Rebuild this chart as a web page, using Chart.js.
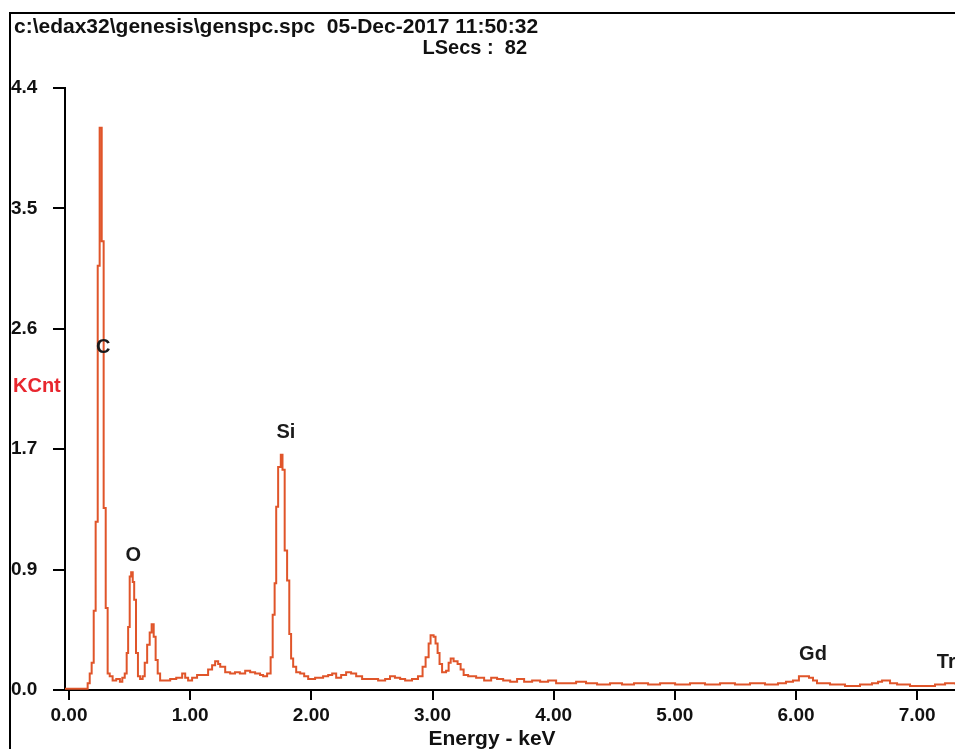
<!DOCTYPE html>
<html>
<head>
<meta charset="utf-8">
<script src="https://cdn.jsdelivr.net/npm/chart.js@4.4.0/dist/chart.umd.min.js"></script>
<style>
  html, body { margin: 0; padding: 0; background: #fff; }
  #wrap { width: 955px; height: 749px; }
</style>
</head>
<body>
<div id="wrap"><canvas id="spectrum" width="955" height="749"></canvas></div>
<script>
// EDS spectrum: channel left edge (keV) and counts (KCnt)
const energyKeV = [
  -0.033, 0.154, 0.171, 0.187, 0.204, 0.220, 0.237, 0.253, 0.270, 0.286,
  0.303, 0.319, 0.336, 0.36, 0.39, 0.42, 0.44, 0.460, 0.476, 0.488,
  0.501, 0.513, 0.526, 0.538, 0.553, 0.569, 0.587, 0.608, 0.625, 0.645,
  0.666, 0.682, 0.699, 0.715, 0.732, 0.752, 0.835, 0.885, 0.934, 0.959,
  0.983, 1.016, 1.057, 1.148, 1.181, 1.206, 1.231, 1.248, 1.289, 1.33,
  1.37, 1.41, 1.454, 1.495, 1.536, 1.577, 1.602, 1.635, 1.664, 1.681,
  1.697, 1.710, 1.726, 1.748, 1.762, 1.780, 1.800, 1.818, 1.833, 1.85,
  1.875, 1.908, 1.941, 1.974, 2.031, 2.097, 2.139, 2.172, 2.205, 2.246,
  2.287, 2.328, 2.37, 2.419, 2.551, 2.609, 2.649, 2.69, 2.733, 2.774,
  2.831, 2.88, 2.918, 2.943, 2.968, 2.984, 3.009, 3.025, 3.042, 3.058,
  3.079, 3.112, 3.133, 3.15, 3.174, 3.207, 3.232, 3.257, 3.294, 3.36,
  3.426, 3.484, 3.533, 3.583, 3.641, 3.698, 3.756, 3.822, 3.888, 3.954,
  4.02, 4.185, 4.267, 4.358, 4.465, 4.564, 4.663, 4.779, 4.878, 5.002,
  5.125, 5.249, 5.373, 5.496, 5.62, 5.744, 5.851, 5.917, 5.975, 6.024,
  6.107, 6.14, 6.173, 6.28, 6.404, 6.528, 6.627, 6.677, 6.71, 6.776,
  6.834, 6.941, 7.147, 7.23, 7.312
];
const kcnt = [
  0.01, 0.05, 0.12, 0.20, 0.58, 1.23, 3.10, 4.11, 3.28, 1.33,
  0.60, 0.12, 0.10, 0.07, 0.08, 0.06, 0.09, 0.12, 0.27, 0.46,
  0.83, 0.86, 0.79, 0.66, 0.27, 0.10, 0.08, 0.10, 0.20, 0.33,
  0.42, 0.48, 0.39, 0.22, 0.12, 0.07, 0.08, 0.09, 0.12, 0.09,
  0.07, 0.09, 0.11, 0.15, 0.18, 0.21, 0.19, 0.17, 0.13, 0.12,
  0.13, 0.12, 0.14, 0.13, 0.12, 0.11, 0.10, 0.12, 0.24, 0.55,
  0.78, 1.34, 1.63, 1.72, 1.61, 1.02, 0.80, 0.41, 0.23, 0.17,
  0.13, 0.12, 0.10, 0.08, 0.09, 0.10, 0.11, 0.12, 0.09, 0.11,
  0.13, 0.12, 0.10, 0.08, 0.07, 0.08, 0.10, 0.09, 0.08, 0.07,
  0.08, 0.10, 0.17, 0.24, 0.34, 0.40, 0.39, 0.34, 0.27, 0.19,
  0.13, 0.14, 0.20, 0.23, 0.21, 0.19, 0.15, 0.11, 0.10, 0.09,
  0.07, 0.09, 0.08, 0.07, 0.06, 0.08, 0.06, 0.07, 0.06, 0.07,
  0.05, 0.06, 0.05, 0.04, 0.05, 0.04, 0.05, 0.04, 0.05, 0.04,
  0.05, 0.04, 0.05, 0.04, 0.05, 0.04, 0.05, 0.06, 0.07, 0.10,
  0.09, 0.07, 0.05, 0.04, 0.03, 0.04, 0.05, 0.06, 0.07, 0.05,
  0.04, 0.03, 0.04, 0.05, 0.04
];

const xTickValues = [0, 1, 2, 3, 4, 5, 6, 7];
const yTickValues = [0, 0.88, 1.76, 2.64, 3.52, 4.4];
const yTickLabels = ['0.0', '0.9', '1.7', '2.6', '3.5', '4.4'];

// element markers: name, energy, height (KCnt) where the label sits
const peakNames = ['C', 'O', 'Si', 'Gd', 'Tr'];
const peakLabelE = [0.283, 0.53, 1.79, 6.14, 7.24];
const peakLabelK = [2.50, 0.98, 1.88, 0.26, 0.20];

const BOLD = 'bold 20px "Liberation Sans", Arial, sans-serif';

// frame, header lines and element labels like the EDAX printout
const printoutText = {
  id: 'printoutText',
  afterDraw(chart) {
    const ctx = chart.ctx;
    const xs = chart.scales.x;
    const ys = chart.scales.y;
    ctx.save();

    ctx.strokeStyle = '#000';
    ctx.lineWidth = 2;
    ctx.beginPath();
    ctx.moveTo(10, 749);
    ctx.lineTo(10, 13);
    ctx.lineTo(955, 13);
    ctx.stroke();

    ctx.fillStyle = '#111';
    ctx.font = 'bold 21px "Liberation Sans", Arial, sans-serif';
    ctx.textAlign = 'left';
    ctx.textBaseline = 'alphabetic';
    ctx.fillText('c:\\edax32\\genesis\\genspc.spc  05-Dec-2017 11:50:32', 14, 33);
    ctx.font = BOLD;
    ctx.textAlign = 'right';
    ctx.fillText('LSecs :  82', 527, 54);

    ctx.textAlign = 'left';
    ctx.fillStyle = '#e8262e';
    ctx.fillText('KCnt', 13, 392);

    ctx.fillStyle = '#111';
    ctx.textAlign = 'center';
    ctx.font = 'bold 21px "Liberation Sans", Arial, sans-serif';
    ctx.fillText('Energy - keV', 492, 745);

    ctx.font = BOLD;
    ctx.textBaseline = 'middle';
    ctx.fillStyle = '#1a1a1a';
    peakNames.forEach((name, i) => {
      ctx.fillText(name, xs.getPixelForValue(peakLabelE[i]), ys.getPixelForValue(peakLabelK[i]));
    });
    ctx.restore();
  }
};

const ctx = document.getElementById('spectrum').getContext('2d');
new Chart(ctx, {
  type: 'line',
  data: {
    datasets: [{
      data: energyKeV.map((e, i) => ({ x: e, y: kcnt[i] })),
      borderColor: '#e0552a',
      borderWidth: 2,
      pointRadius: 0,
      stepped: true,
      fill: false
    }]
  },
  options: {
    responsive: false,
    animation: false,
    devicePixelRatio: 1,
    layout: { padding: { left: 11, top: 88, right: 0, bottom: 0 } },
    plugins: { legend: { display: false }, tooltip: { enabled: false } },
    scales: {
      x: {
        type: 'linear',
        min: -0.033,
        max: 7.312,
        afterBuildTicks: s => { s.ticks = xTickValues.map(v => ({ value: v })); },
        afterFit: s => { s.height = 59; },
        ticks: {
          callback: v => Number(v).toFixed(2),
          color: '#111',
          font: { family: '"Liberation Sans Narrow", "Liberation Sans", Arial', size: 19, weight: 'bold' },
          padding: 4,
          maxRotation: 0,
          autoSkip: false
        },
        grid: { display: true, drawOnChartArea: false, drawTicks: true, tickLength: 10, color: '#000', lineWidth: 2 },
        border: { display: true, color: '#000', width: 2 }
      },
      y: {
        min: 0,
        max: 4.4,
        afterBuildTicks: s => { s.ticks = yTickValues.map(v => ({ value: v })); },
        afterFit: s => { s.width = 54; },
        ticks: {
          callback: (v, i) => yTickLabels[i],
          color: '#111',
          crossAlign: 'far',
          font: { family: '"Liberation Sans", Arial', size: 19, weight: 'bold' },
          autoSkip: false
        },
        grid: { display: true, drawOnChartArea: false, drawTicks: true, tickLength: 12, color: '#000', lineWidth: 2 },
        border: { display: true, color: '#000', width: 2 }
      }
    }
  },
  plugins: [printoutText]
});
</script>
</body>
</html>
